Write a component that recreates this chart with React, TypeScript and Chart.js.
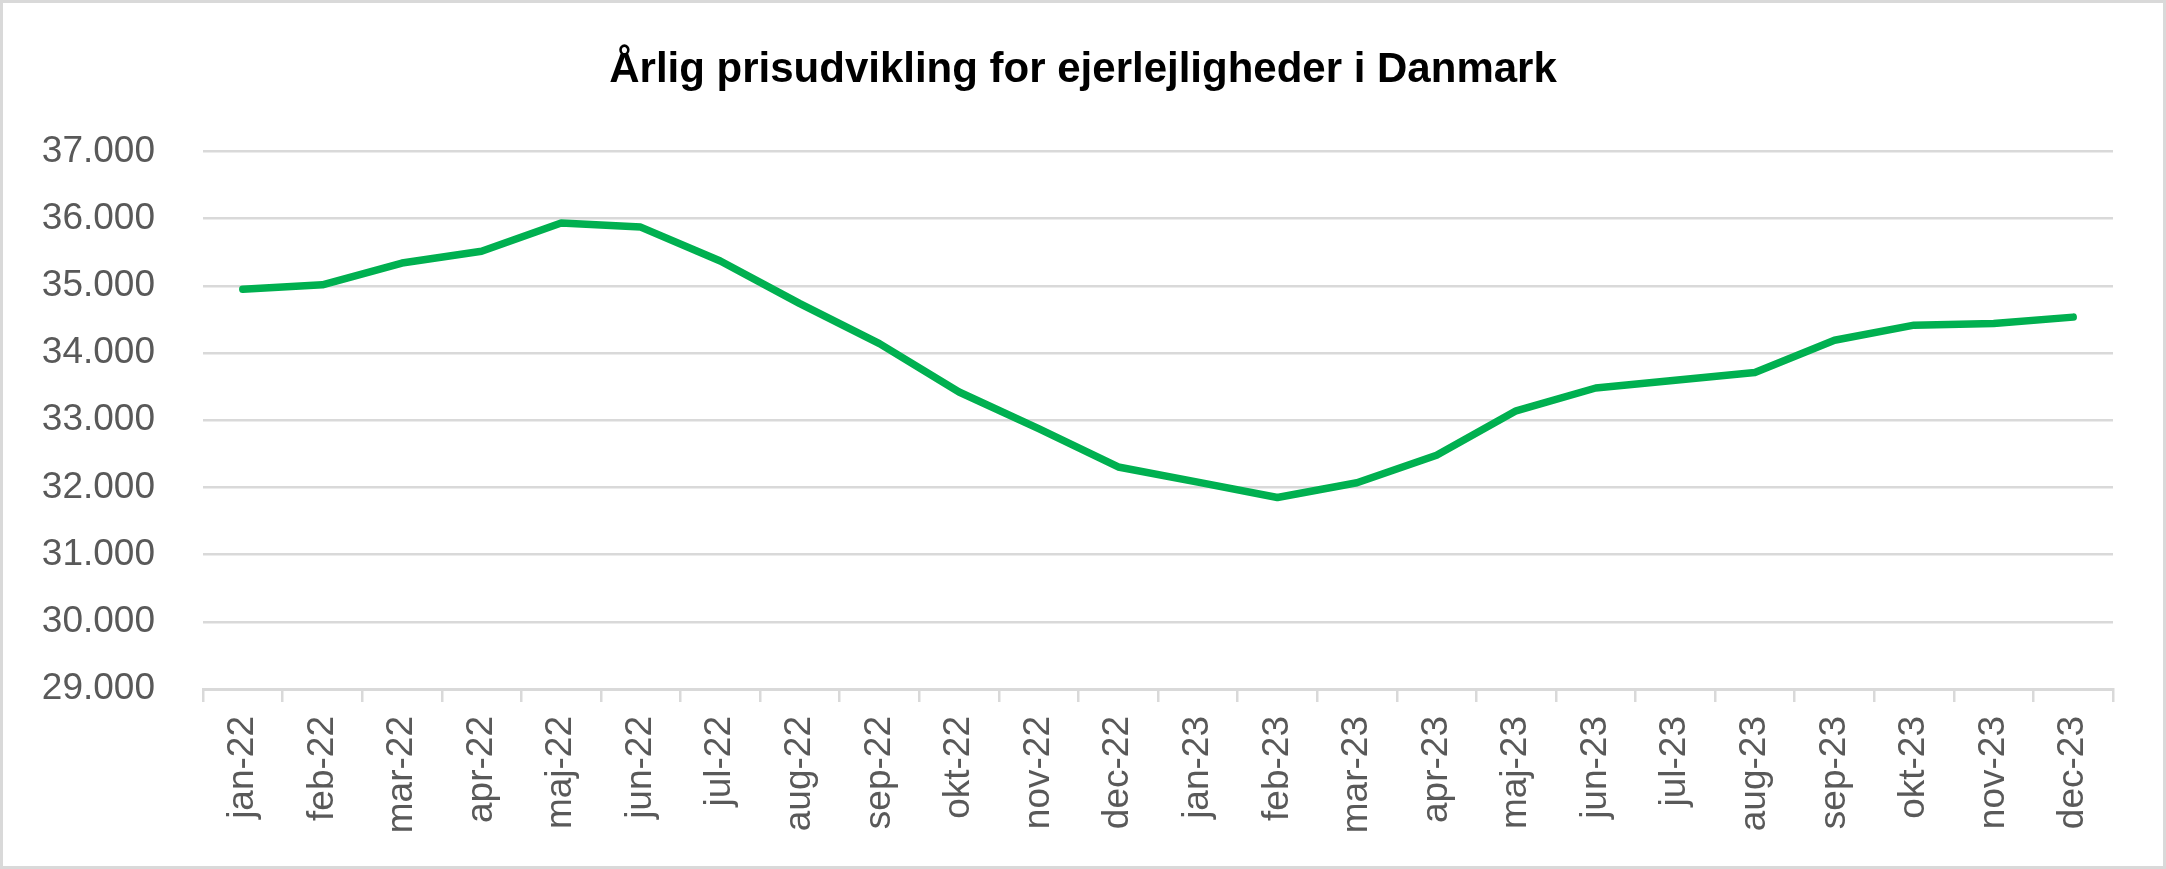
import React, { useEffect, useRef } from "react";
import { Chart, registerables } from "chart.js";

Chart.register(...registerables);

const categories: string[] = [
  "jan-22", "feb-22", "mar-22", "apr-22", "maj-22", "jun-22",
  "jul-22", "aug-22", "sep-22", "okt-22", "nov-22", "dec-22",
  "jan-23", "feb-23", "mar-23", "apr-23", "maj-23", "jun-23",
  "jul-23", "aug-23", "sep-23", "okt-23", "nov-23", "dec-23",
];

const prices: number[] = [
  34950, 35015, 35340, 35515, 35935, 35875,
  35370, 34735, 34140, 33420, 32875, 32305,
  32080, 31850, 32070, 32480, 33140, 33480,
  33595, 33710, 34190, 34415, 34440, 34535,
];

const yMin = 29000;
const yMax = 37000;
const yStep = 1000;

const title = "Årlig prisudvikling for ejerlejligheder i Danmark";

const fmt = (v: number) => String(v).replace(/\B(?=(\d{3})+(?!\d))/g, ".");

export default function App() {
  const ref = useRef<HTMLCanvasElement | null>(null);

  useEffect(() => {
    document.body.style.margin = "0";
    const canvas = ref.current;
    if (!canvas) return;
    const chart = new Chart(canvas, {
      type: "line",
      data: {
        labels: categories,
        datasets: [
          {
            data: prices,
            yAxisID: "y",
            borderColor: "#00b050",
            backgroundColor: "#00b050",
            borderWidth: 7.5,
            borderCapStyle: "round",
            borderJoinStyle: "round",
            pointRadius: 0,
            pointHoverRadius: 0,
            tension: 0,
            fill: false,
          },
        ],
      },
      options: {
        responsive: false,
        animation: false,
        devicePixelRatio: 1,
        layout: { padding: { left: 0, right: 0, top: 0, bottom: 0 } },
        plugins: {
          legend: { display: false },
          tooltip: { enabled: false },
          title: {
            display: true,
            text: title,
            color: "#000000",
            font: { family: "'Liberation Sans', Arial, sans-serif", size: 42, weight: "bold", lineHeight: 1.2 },
            padding: { top: 42.5, bottom: 55.6 },
          },
        },
        scales: {
          x: {
            type: "category",
            offset: true,
            grid: {
              display: true,
              offset: true,
              drawOnChartArea: false,
              drawTicks: true,
              tickLength: 13,
              color: "#d9d9d9",
              lineWidth: 2.5,
            },
            border: { display: true, color: "#d9d9d9", width: 3 },
            ticks: {
              color: "#595959",
              font: { family: "'Liberation Sans', Arial, sans-serif", size: 37 },
              minRotation: 90,
              maxRotation: 90,
              padding: 14,
              autoSkip: false,
            },
            afterFit: (scale: any) => {
              scale.height = 177;
            },
          },
          y: {
            position: "left",
            min: yMin,
            max: yMax,
            grid: {
              color: "#d9d9d9",
              lineWidth: 2.5,
              drawTicks: false,
            },
            border: { display: false },
            ticks: {
              stepSize: yStep,
              color: "#595959",
              font: { family: "'Liberation Sans', Arial, sans-serif", size: 37 },
              padding: 48,
              callback: (v: any) => fmt(Number(v)),
            },
            afterFit: (scale: any) => {
              scale.width = 200;
            },
          },
          yRightSpace: {
            position: "right",
            display: true,
            min: yMin,
            max: yMax,
            grid: { display: false, drawOnChartArea: false, drawTicks: false },
            border: { display: false },
            ticks: { display: false },
            afterFit: (scale: any) => {
              scale.width = 50;
            },
          },
        },
      },
    });
    return () => chart.destroy();
  }, []);

  return (
    <div
      style={{
        width: 2166,
        height: 869,
        boxSizing: "border-box",
        border: "3px solid #d9d9d9",
        background: "#ffffff",
        overflow: "hidden",
      }}
    >
      <canvas ref={ref} width={2160} height={863} style={{ display: "block", width: 2160, height: 863 }} />
    </div>
  );
}
